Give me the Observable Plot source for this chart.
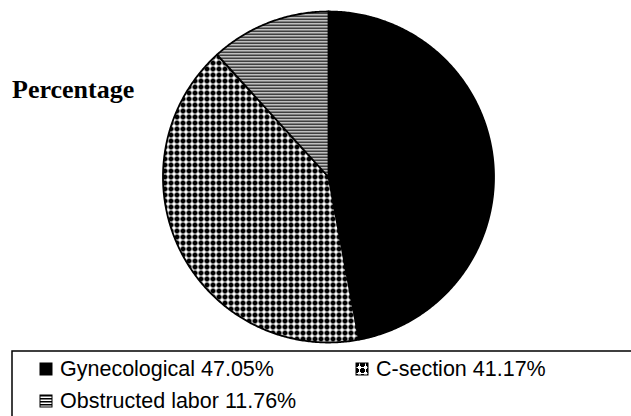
<!DOCTYPE html>
<html><head><meta charset="utf-8">
<script src="https://cdn.jsdelivr.net/npm/d3@7"></script>
<script src="https://cdn.jsdelivr.net/npm/@observablehq/plot@0.6"></script>
<style>
body{margin:0;background:#fff;}
#wrap{position:relative;width:631px;height:416px;overflow:hidden;background:#fff;}
#chart{position:absolute;left:0;top:0;}
#title{position:absolute;left:12px;top:77px;font:bold 26px "Liberation Serif","Times New Roman",serif;line-height:26px;color:#000;white-space:nowrap;}
#legend{position:absolute;left:0;top:350px;}
</style></head><body>
<div id="wrap"><div id="chart"></div><div id="title">Percentage</div><div id="legend"></div></div>
<script>
const categories = ["Gynecological", "C-section", "Obstructed labor"];
const values = [47.05, 41.17, 11.76];
const legendLabels = ["Gynecological 47.05%", "C-section 41.17%", "Obstructed labor 11.76%"];
const fills = ["#000", "url(#checker)", "url(#hlines)"];

const data = categories.map((c, i) => ({category: c, value: values[i]}));
const arcs = d3.pie().sort(null).value(d => d.value)(data);

// polygon outline of each slice, computed from the pie angles
const slices = arcs.map(a => {
  const n = Math.max(2, Math.ceil((a.endAngle - a.startAngle) / (Math.PI / 360)));
  const pts = [{x: 0, y: 0}];
  for (let k = 0; k <= n; k++) {
    const t = a.startAngle + (a.endAngle - a.startAngle) * k / n;
    pts.push({x: Math.sin(t), y: Math.cos(t)});
  }
  pts.push({x: 0, y: 0});
  return pts;
});

const svg = Plot.plot({
  width: 631,
  height: 350,
  marginLeft: 162.5,
  marginRight: 137.5,
  marginTop: 11,
  marginBottom: 8,
  x: {domain: [-1, 1], axis: null},
  y: {domain: [-1, 1], axis: null},
  marks: slices.map((pts, i) => Plot.line(pts, {
    x: "x", y: "y", fill: fills[i], stroke: "#000", strokeWidth: 1.8, strokeLinejoin: "round", curve: "linear"
  }))
});

function addDefs(root) {
  const defs = d3.select(root).insert("defs", ":first-child");
  const ck = defs.append("pattern").attr("id", "checker").attr("patternUnits", "userSpaceOnUse")
    .attr("width", 6).attr("height", 6);
  ck.append("rect").attr("width", 6).attr("height", 6).attr("fill", "#fff");
  ck.append("rect").attr("x", 0).attr("y", 1).attr("width", 5).attr("height", 3).attr("fill", "#000");
  ck.append("rect").attr("x", 1).attr("y", 0).attr("width", 3).attr("height", 5).attr("fill", "#000");
  const hl = defs.append("pattern").attr("id", "hlines").attr("patternUnits", "userSpaceOnUse")
    .attr("width", 6).attr("height", 3);
  hl.append("rect").attr("width", 6).attr("height", 3).attr("fill", "#fff");
  hl.append("rect").attr("y", 0).attr("width", 6).attr("height", 1.5).attr("fill", "#000");
}
addDefs(svg);
document.getElementById("chart").appendChild(svg);

// legend
const lg = d3.select("#legend").append("svg").attr("width", 631).attr("height", 66)
  .style("font-family", "'Liberation Sans', Arial, sans-serif");
lg.append("rect").attr("x", 12).attr("y", 1).attr("width", 700).attr("height", 120)
  .attr("fill", "#fff").attr("stroke", "#000").attr("stroke-width", 1.5);
const pos = [[40, 26], [356, 26], [40, 58]];
legendLabels.forEach((lab, i) => {
  const [x, y] = pos[i];
  lg.append("rect").attr("x", x).attr("y", y - 13).attr("width", 12).attr("height", 12)
    .attr("fill", fills[i]).attr("stroke", "#000").attr("stroke-width", 1);
  lg.append("text").attr("x", x + 20).attr("y", y).attr("font-size", 21.5).attr("fill", "#000").text(lab);
});
</script>
</body></html>
